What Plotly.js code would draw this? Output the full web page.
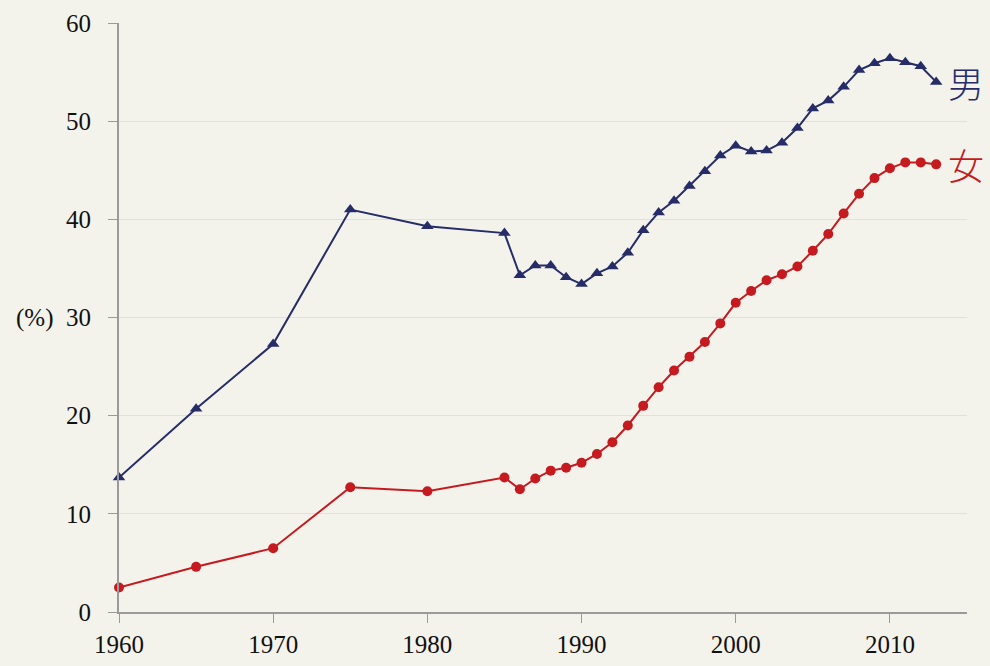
<!DOCTYPE html>
<html><head><meta charset="utf-8">
<script src="https://cdn.plot.ly/plotly-3.0.1.min.js"></script>
<style>body{margin:0;background:#f4f3eb}</style>
</head><body>
<div id="chart" style="width:990px;height:666px"></div>
<script>
const years = [1960,1965,1970,1975,1980,1985,1986,1987,1988,1989,1990,1991,1992,1993,1994,1995,1996,1997,1998,1999,2000,2001,2002,2003,2004,2005,2006,2007,2008,2009,2010,2011,2012,2013];
const male = [13.7,20.7,27.3,41.0,39.3,38.6,34.3,35.3,35.3,34.1,33.4,34.5,35.2,36.6,38.9,40.7,41.9,43.4,44.9,46.5,47.5,46.9,47.0,47.8,49.3,51.3,52.1,53.5,55.2,55.9,56.4,56.0,55.6,54.0];
const female = [2.5,4.6,6.5,12.7,12.3,13.7,12.5,13.6,14.4,14.7,15.2,16.1,17.3,19.0,21.0,22.9,24.6,26.0,27.5,29.4,31.5,32.7,33.8,34.4,35.2,36.8,38.5,40.6,42.6,44.2,45.2,45.8,45.8,45.6];
const seriesNames = ['男','女'];
const yTicks = [0,10,20,30,40,50,60];
const xTicks = [1960,1970,1980,1990,2000,2010];
const navy = '#262c68', red = '#c41a20';
const serif = 'Liberation Serif, Times New Roman, serif';
const traces = [
  {x: years, y: male, name: seriesNames[0], mode:'lines+markers', line:{color:navy,width:2}, marker:{symbol:'triangle-up',size:11,color:navy}, cliponaxis:false},
  {x: years, y: female, name: seriesNames[1], mode:'lines+markers', line:{color:red,width:2}, marker:{symbol:'circle',size:10,color:red}, cliponaxis:false}
];
const layout = {
  width:990, height:666,
  paper_bgcolor:'#f4f3eb', plot_bgcolor:'#f4f3eb',
  margin:{l:119,r:23,t:23,b:54},
  showlegend:false,
  font:{family:serif, size:25, color:'#111'},
  xaxis:{range:[1960,2015], tickvals:xTicks, ticktext:xTicks.map(String), showline:true, linecolor:'#9a9a9a', linewidth:2, ticks:'outside', ticklen:9, tickcolor:'#9a9a9a', tickwidth:1, showgrid:false, zeroline:false, tickfont:{family:serif,size:25}},
  yaxis:{range:[0,60], tickvals:yTicks, showline:true, linecolor:'#9a9a9a', linewidth:2, ticks:'outside', ticklen:9, tickcolor:'#9a9a9a', tickwidth:1, ticklabelstandoff:12, showgrid:true, gridcolor:'#e2e1d9', gridwidth:1, zeroline:false, tickfont:{family:serif,size:25}},
  annotations:[
    {xref:'paper', yref:'y', x:-0.075, y:30, text:'(%)', showarrow:false, xanchor:'right', font:{family:serif,size:25}},
    {xref:'x', yref:'y', x:years[years.length-1], y:male[male.length-1], text:seriesNames[0], showarrow:false, xanchor:'left', xshift:10, font:{family:'Noto Sans CJK JP', size:36, color:navy, weight:300}},
    {xref:'x', yref:'y', x:years[years.length-1], y:female[female.length-1], text:seriesNames[1], showarrow:false, xanchor:'left', xshift:10, font:{family:'Noto Sans CJK JP', size:36, color:red, weight:300}}
  ]
};
Plotly.newPlot('chart', traces, layout, {displayModeBar:false});
</script>
</body></html>
